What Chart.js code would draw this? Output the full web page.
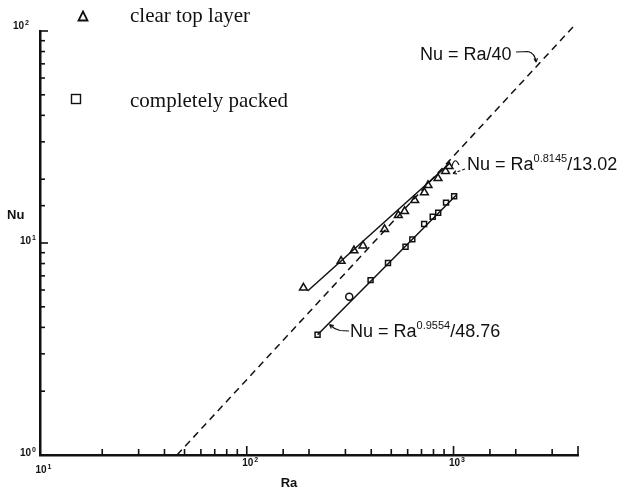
<!DOCTYPE html>
<html>
<head>
<meta charset="utf-8">
<script src="https://cdn.jsdelivr.net/npm/chart.js@4.4.1/dist/chart.umd.min.js"></script>
<style>
  html, body { margin: 0; padding: 0; background: #fff; }
  #c { display: block; }
</style>
</head>
<body>
<canvas id="c" width="617" height="492"></canvas>
<script>
// ---- data ----
const raTri = [188, 286, 330, 365, 464, 541, 580, 649, 723, 753, 841, 915, 951];
const nuTri = [6.15, 8.22, 9.21, 9.71, 11.6, 13.5, 14.1, 15.9, 17.3, 18.7, 20.2, 21.8, 23.0];
const raSq = [220, 313, 397, 482, 586, 632, 721, 793, 843, 920, 1007];
const nuSq = [3.69, 5.58, 6.68, 8.04, 9.60, 10.4, 12.3, 13.3, 13.9, 15.5, 16.6];
const triFitRa = [197, 957];
const triFitNu = [5.94, 23.7];
const sqFitRa = [220, 1035];
const sqFitNu = [3.69, 16.9];
const dashRa = [46, 3870];
const dashNu = [1, 107];
const xRange = [10, 4000];
const yRange = [1, 100];
const legendLabels = ['clear top layer', 'completely packed'];
const xTitle = 'Ra';
const yTitle = 'Nu';

const pts = (xs, ys) => xs.map((x, i) => ({ x: x, y: ys[i] }));
const sqStyles = raSq.map((_, i) => i === 1 ? 'circle' : 'rect');

const ink = '#111';
const FONT = '"Liberation Sans", Arial, sans-serif';

function sup(ctx, x, y, base, exp, size, supSize, rise) {
  ctx.font = size + 'px ' + FONT;
  ctx.fillText(base, x, y);
  let w = ctx.measureText(base).width;
  ctx.font = supSize + 'px ' + FONT;
  ctx.fillText(exp, x + w, y - rise);
  return w + ctx.measureText(exp).width;
}

function arrowHead(ctx, tx, ty, fx, fy, len) {
  const a = Math.atan2(ty - fy, tx - fx);
  ctx.beginPath();
  ctx.moveTo(tx, ty);
  ctx.lineTo(tx - len * Math.cos(a - 0.45), ty - len * Math.sin(a - 0.45));
  ctx.moveTo(tx, ty);
  ctx.lineTo(tx - len * Math.cos(a + 0.45), ty - len * Math.sin(a + 0.45));
  ctx.stroke();
}

const isDecade = v => Math.abs(Math.log10(v) - Math.round(Math.log10(v))) < 1e-9;

const decor = {
  id: 'decor',
  afterDraw(chart) {
    const ctx = chart.ctx;
    const xs = chart.scales.x, ys = chart.scales.y, a = chart.chartArea;
    ctx.save();
    ctx.strokeStyle = ink;
    ctx.fillStyle = ink;
    ctx.lineWidth = 1.6;
    // inward ticks
    xs.ticks.forEach(t => {
      const v = t.value;
      if (v <= xRange[0]) return;
      const px = xs.getPixelForValue(v);
      const len = isDecade(v) || v === xRange[1] ? 9 : 6;
      ctx.beginPath(); ctx.moveTo(px, a.bottom); ctx.lineTo(px, a.bottom - len); ctx.stroke();
    });
    ys.ticks.forEach(t => {
      const v = t.value;
      if (v <= yRange[0]) return;
      const py = ys.getPixelForValue(v);
      const len = isDecade(v) ? 8 : 5;
      ctx.beginPath(); ctx.moveTo(a.left, py); ctx.lineTo(a.left + len, py); ctx.stroke();
    });
    // tick labels
    ctx.textBaseline = 'alphabetic';
    ys.ticks.forEach(t => {
      const v = t.value;
      if (!isDecade(v)) return;
      const py = ys.getPixelForValue(v);
      const e = String(Math.round(Math.log10(v)));
      const top = v === yRange[1];
      const right = top ? 24 : 31;
      const base = top ? py - 2 : py + 1;
      ctx.font = 'bold 10px ' + FONT;
      ctx.textAlign = 'right';
      ctx.fillText('10', right, base);
      ctx.textAlign = 'left';
      ctx.font = 'bold 7px ' + FONT;
      ctx.fillText(e, right + 1, base - 4);
    });
    xs.ticks.forEach(t => {
      const v = t.value;
      if (!isDecade(v)) return;
      const px = xs.getPixelForValue(v);
      const e = String(Math.round(Math.log10(v)));
      ctx.font = 'bold 10px ' + FONT;
      ctx.textAlign = 'center';
      const base = v === xRange[0] ? 473 : 466;
      ctx.fillText('10', px + 1, base);
      ctx.textAlign = 'left';
      ctx.font = 'bold 7px ' + FONT;
      ctx.fillText(e, px + 7.5, base - 4);
    });
    // axis titles
    ctx.font = 'bold 13px ' + FONT;
    ctx.textAlign = 'center';
    ctx.fillText(xTitle, 289, 487);
    ctx.textAlign = 'left';
    ctx.fillText(yTitle, 7, 219);

    // legend
    ctx.lineWidth = 1.8;
    ctx.beginPath();
    ctx.moveTo(83, 11.5); ctx.lineTo(87.5, 20.5); ctx.lineTo(78.5, 20.5); ctx.closePath(); ctx.stroke();
    ctx.lineWidth = 1.4;
    ctx.strokeRect(71.5, 94.5, 9, 9);
    ctx.font = '21px "Liberation Serif", "Times New Roman", serif';
    ctx.textAlign = 'left';
    ctx.fillText(legendLabels[0], 130, 22);
    ctx.fillText(legendLabels[1], 130, 107);

    // annotations
    ctx.fillStyle = ink;
    ctx.font = '18px ' + FONT;
    ctx.fillText('Nu = Ra/40', 420, 60);
    {
      sup(ctx, 467, 170, 'Nu = Ra', '0.8145', 18, 11, 8);
      ctx.font = '18px ' + FONT; const w1 = ctx.measureText('Nu = Ra').width;
      ctx.font = '11px ' + FONT; const w2 = ctx.measureText('0.8145').width;
      ctx.font = '18px ' + FONT; ctx.fillText('/13.02', 467 + w1 + w2, 170);
    }
    {
      sup(ctx, 350, 337, 'Nu = Ra', '0.9554', 18, 11, 8);
      ctx.font = '18px ' + FONT; const w1 = ctx.measureText('Nu = Ra').width;
      ctx.font = '11px ' + FONT; const w2 = ctx.measureText('0.9554').width;
      ctx.font = '18px ' + FONT; ctx.fillText('/48.76', 350 + w1 + w2, 337);
    }
    // leaders
    ctx.lineWidth = 1.2;
    ctx.beginPath();
    ctx.moveTo(516, 52); ctx.lineTo(528, 51.5);
    ctx.quadraticCurveTo(535, 53, 536, 62);
    ctx.stroke();
    arrowHead(ctx, 536, 62, 535.5, 55, 4);

    ctx.beginPath();
    ctx.moveTo(452, 166); ctx.quadraticCurveTo(455, 156, 459, 165);
    ctx.stroke();
    ctx.setLineDash([3, 2]);
    ctx.beginPath(); ctx.moveTo(465, 169); ctx.lineTo(454, 173); ctx.stroke();
    ctx.setLineDash([]);
    arrowHead(ctx, 453, 173.5, 460, 171, 4);

    ctx.beginPath();
    ctx.moveTo(349, 331); ctx.lineTo(340, 330.5);
    ctx.quadraticCurveTo(334, 329, 330, 325);
    ctx.stroke();
    arrowHead(ctx, 329.5, 324.5, 335, 329, 4.5);
    ctx.restore();
  }
};

new Chart(document.getElementById('c'), {
  type: 'scatter',
  data: {
    datasets: [
      { data: pts(dashRa, dashNu), showLine: true, pointRadius: 0, borderColor: ink,
        borderWidth: 1.5, borderDash: [7, 5], clip: false },
      { data: pts(triFitRa, triFitNu), showLine: true, pointRadius: 0, borderColor: ink, borderWidth: 1.5 },
      { data: pts(sqFitRa, sqFitNu), showLine: true, pointRadius: 0, borderColor: ink, borderWidth: 1.5 },
      { data: pts(raTri, nuTri), pointStyle: 'triangle', pointRadius: 4.5, borderColor: ink,
        backgroundColor: '#fff', borderWidth: 1.5 },
      { data: pts(raSq, nuSq), pointStyle: sqStyles, pointRadius: 3.5, borderColor: ink,
        backgroundColor: '#fff', borderWidth: 1.5 }
    ]
  },
  options: {
    responsive: false,
    animation: false,
    layout: { padding: { top: 31, right: 39, left: 0, bottom: 0 } },
    plugins: { legend: { display: false }, tooltip: { enabled: false } },
    scales: {
      x: {
        type: 'logarithmic', min: xRange[0], max: xRange[1],
        grid: { display: false },
        border: { display: true, color: ink, width: 2.5 },
        ticks: { display: false },
        afterFit: s => { s.height = 37; }
      },
      y: {
        type: 'logarithmic', min: yRange[0], max: yRange[1],
        grid: { display: false },
        border: { display: true, color: ink, width: 2.5 },
        ticks: { display: false },
        afterFit: s => { s.width = 40; }
      }
    }
  },
  plugins: [decor]
});
</script>
</body>
</html>
